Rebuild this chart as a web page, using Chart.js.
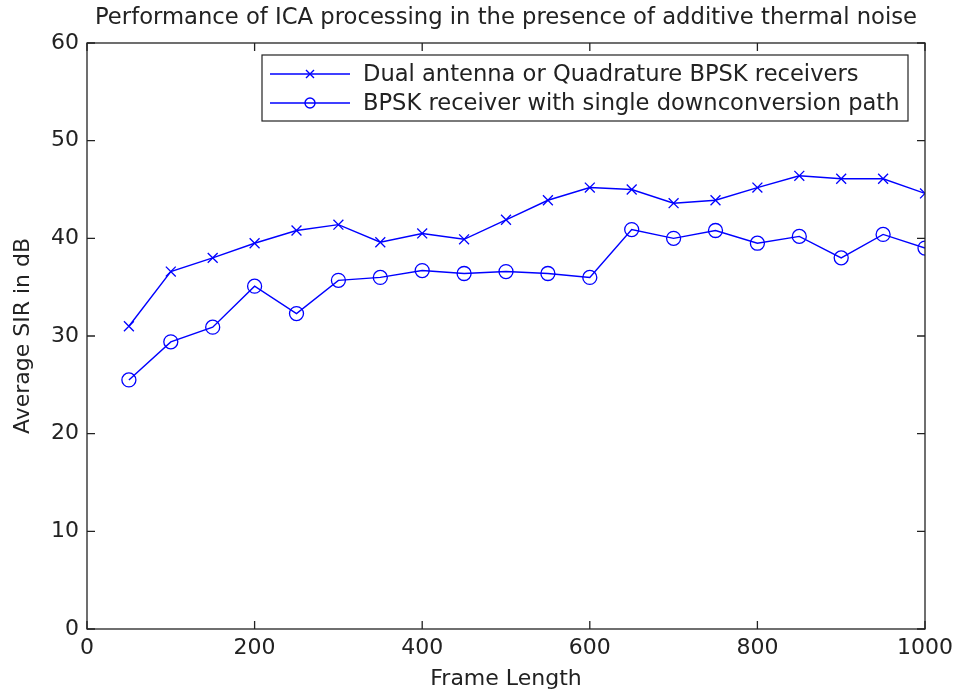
<!DOCTYPE html>
<html>
<head>
<meta charset="utf-8">
<script src="https://cdn.jsdelivr.net/npm/chart.js@4"></script>
<style>
  html, body { margin: 0; padding: 0; background: #fff; }
  #wrap { width: 956px; height: 692px; }
</style>
</head>
<body>
<div id="wrap"><canvas id="c" width="956" height="692"></canvas></div>
<script>
// Frame lengths (x) and average SIR values (dB) for both receiver types
const frameLengths = [50, 100, 150, 200, 250, 300, 350, 400, 450, 500,
                      550, 600, 650, 700, 750, 800, 850, 900, 950, 1000];
const dualAntennaSIR = [31.0, 36.6, 38.0, 39.5, 40.8, 41.4, 39.6, 40.5, 39.9, 41.9,
                        43.9, 45.2, 45.0, 43.6, 43.9, 45.2, 46.4, 46.1, 46.1, 44.6];
const singlePathSIR = [25.5, 29.4, 30.9, 35.1, 32.3, 35.7, 36.0, 36.7, 36.4, 36.6,
                       36.4, 36.0, 40.9, 40.0, 40.8, 39.5, 40.2, 38.0, 40.4, 39.0];
const seriesNames = ['Dual antenna or Quadrature BPSK receivers',
                     'BPSK receiver with single downconversion path'];
const chartTitle = 'Performance of ICA processing in the presence of additive thermal noise';
const xTicks = [0, 200, 400, 600, 800, 1000];
const yTicks = [0, 10, 20, 30, 40, 50, 60];

const FONT = '"DejaVu Sans", Arial, sans-serif';
const BLUE = '#0000ff';
const INK = '#222222';

function toPoints(xs, ys) { return xs.map((x, i) => ({ x: x, y: ys[i] })); }

// Title centred over the axes, box with inward ticks, and a boxed legend
const frameAndLegend = {
  id: 'frameAndLegend',
  afterDraw(chart) {
    const ctx = chart.ctx;
    const a = chart.chartArea;
    const xs = chart.scales.x, ys = chart.scales.y;
    const tl = 8;
    ctx.save();

    ctx.fillStyle = INK;
    ctx.font = '22.7px ' + FONT;
    ctx.textAlign = 'center';
    ctx.textBaseline = 'middle';
    ctx.fillText(chartTitle, (a.left + a.right) / 2, 18);

    ctx.strokeStyle = INK;
    ctx.lineWidth = 1.3;
    ctx.strokeRect(a.left, a.top, a.right - a.left, a.bottom - a.top);
    ctx.beginPath();
    xTicks.forEach(v => {
      const px = xs.getPixelForValue(v);
      ctx.moveTo(px, a.bottom); ctx.lineTo(px, a.bottom - tl);
      ctx.moveTo(px, a.top); ctx.lineTo(px, a.top + tl);
    });
    yTicks.forEach(v => {
      const py = ys.getPixelForValue(v);
      ctx.moveTo(a.left, py); ctx.lineTo(a.left + tl, py);
      ctx.moveTo(a.right, py); ctx.lineTo(a.right - tl, py);
    });
    ctx.stroke();

    // legend
    const lx = 262, ly = 55, lw = 646, lh = 66;
    ctx.fillStyle = '#fff';
    ctx.fillRect(lx, ly, lw, lh);
    ctx.lineWidth = 1.2;
    ctx.strokeStyle = INK;
    ctx.strokeRect(lx, ly, lw, lh);
    const rows = [ly + 19, ly + 48];
    chart.data.datasets.forEach((ds, i) => {
      const y = rows[i];
      ctx.strokeStyle = BLUE;
      ctx.lineWidth = 1.4;
      ctx.beginPath();
      ctx.moveTo(lx + 8, y); ctx.lineTo(lx + 88, y);
      ctx.stroke();
      const cx = lx + 48;
      ctx.beginPath();
      if (ds.pointStyle === 'crossRot') {
        ctx.moveTo(cx - 4, y - 4); ctx.lineTo(cx + 4, y + 4);
        ctx.moveTo(cx - 4, y + 4); ctx.lineTo(cx + 4, y - 4);
      } else {
        ctx.arc(cx, y, 5, 0, Math.PI * 2);
      }
      ctx.stroke();
      ctx.fillStyle = INK;
      ctx.font = '22.6px ' + FONT;
      ctx.textBaseline = 'middle';
      ctx.textAlign = 'left';
      ctx.fillText(ds.label, lx + 101, y + 1);
    });
    ctx.restore();
  }
};

new Chart(document.getElementById('c'), {
  type: 'line',
  data: {
    datasets: [
      {
        label: seriesNames[0],
        data: toPoints(frameLengths, dualAntennaSIR),
        borderColor: BLUE,
        borderWidth: 1.4,
        pointStyle: 'crossRot',
        pointRadius: 7,
        pointBorderWidth: 1.3,
        pointBorderColor: BLUE,
        pointBackgroundColor: 'rgba(0,0,0,0)',
        tension: 0
      },
      {
        label: seriesNames[1],
        data: toPoints(frameLengths, singlePathSIR),
        borderColor: BLUE,
        borderWidth: 1.4,
        pointStyle: 'circle',
        pointRadius: 7,
        pointBorderWidth: 1.3,
        pointBorderColor: BLUE,
        pointBackgroundColor: 'rgba(0,0,0,0)',
        tension: 0
      }
    ]
  },
  options: {
    responsive: false,
    animation: false,
    layout: { padding: { left: 0, right: 31, top: 43, bottom: 0 } },
    plugins: {
      legend: { display: false },
      tooltip: { enabled: false },
      title: { display: false }
    },
    scales: {
      x: {
        type: 'linear',
        min: 0, max: 1000,
        afterBuildTicks(scale) { scale.ticks = xTicks.map(v => ({ value: v })); },
        afterFit(scale) {
          scale.height = 63;
          scale.paddingLeft = 0;
          scale.paddingRight = 0;
        },
        grid: { display: false, drawTicks: false },
        border: { display: false },
        ticks: {
          color: INK, padding: 6, maxRotation: 0, font: { family: FONT, size: 22 },
          callback: v => String(v)
        },
        title: {
          display: true, text: 'Frame Length', color: INK,
          font: { family: FONT, size: 22 }, padding: { top: 0, bottom: 0 }
        }
      },
      y: {
        type: 'linear',
        min: 0, max: 60,
        afterBuildTicks(scale) { scale.ticks = yTicks.map(v => ({ value: v })); },
        afterFit(scale) {
          scale.width = 87;
          scale.paddingTop = 0;
          scale.paddingBottom = 0;
        },
        grid: { display: false, drawTicks: false },
        border: { display: false },
        ticks: { color: INK, padding: 8, font: { family: FONT, size: 22 } },
        title: {
          display: true, text: 'Average SIR in dB', color: INK,
          font: { family: FONT, size: 22 }, padding: { top: 10, bottom: 0 }
        }
      }
    }
  },
  plugins: [frameAndLegend]
});
</script>
</body>
</html>
